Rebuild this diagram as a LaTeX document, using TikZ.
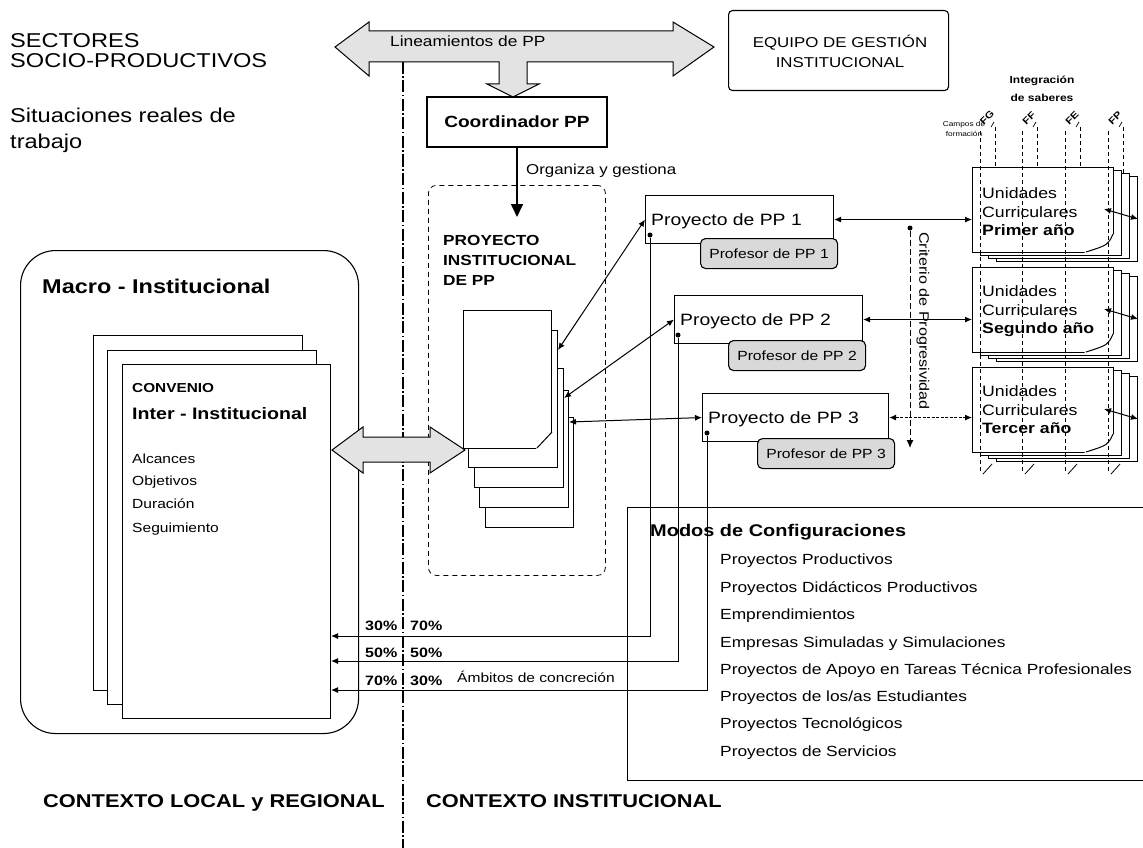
\documentclass[tikz,border=0pt]{standalone}
\usepackage{fontspec}
\setmainfont{Liberation Sans}[FakeStretch=1.18]
\usetikzlibrary{arrows.meta,calc}
\newcommand\fsz[1]{\fontsize{#1}{#1}\selectfont}
\begin{document}
\begin{tikzpicture}[x=1pt,y=-1pt,
  tx/.style={anchor=base west, inner sep=0pt},
  txc/.style={anchor=base, inner sep=0pt},
  bx/.style={draw, line width=1.1pt, inner sep=0pt, anchor=north west},
  page/.style={draw, fill=white, line width=1pt, inner sep=0pt, anchor=north west},
  prof/.style={draw, fill=gray!30, rounded corners=5pt, line width=1.1pt, inner sep=0pt, anchor=north west, minimum width=137pt, minimum height=30pt, font=\fsz{13.3}},
  bigarrow/.style={draw, fill=gray!22, line width=1pt, line join=miter},
  dbl/.style={{Latex[length=7pt,width=6pt]}-{Latex[length=7pt,width=6pt]}, line width=1pt},
  onearrow/.style={-{Latex[length=7pt,width=6pt]}, line width=1pt},
  pdot/.style={circle, fill, inner sep=0pt, minimum size=5pt},
  field/.style={dash pattern=on 4pt off 3pt, line width=0.8pt},
]
\useasboundingbox (0,0) rectangle (1143,848);
\clip (0,0) rectangle (1143,848);

% ---------- top-left texts
\node[tx, font=\fsz{20}] (sec1) at (10,48) {SECTORES};
\node[tx, font=\fsz{20}] (sec2) at (10,68) {SOCIO-PRODUCTIVOS};
\node[tx, font=\fsz{20}] (sit1) at (10,123) {Situaciones reales de};
\node[tx, font=\fsz{20}] (sit2) at (10,149) {trabajo};

% ---------- central dash-dot line
\coordinate (cl1) at (403,62);
\coordinate (cl2) at (403,848);
\draw[line width=1.3pt, dash pattern=on 12pt off 2.5pt on 1.5pt off 2.5pt] (cl1) -- (cl2);

% ---------- top big arrow
\draw[bigarrow] (335,47) -- (369,22) -- (369,31) -- (673,31) -- (673,22) -- (714,47)
  -- (673,76) -- (673,62) -- (527,62) -- (527,84) -- (539,84) -- (513,97) -- (487,84)
  -- (499,84) -- (499,62) -- (369,62) -- (369,76) -- cycle;
\node[tx, font=\fsz{14.7}] (linea) at (390,47) {Lineamientos de PP};

% ---------- equipo
\node[bx, rounded corners=4pt, minimum width=220pt, minimum height=80pt] (equipo) at (728,10) {};
\node[txc, font=\fsz{14.3}] (eq1) at (840,48) {EQUIPO DE GESTIÓN};
\node[txc, font=\fsz{14.3}] (eq2) at (840,68) {INSTITUCIONAL};

% ---------- coordinador
\node[draw, line width=1.1pt, inner sep=0pt, minimum width=180pt, minimum height=50pt, font=\bfseries\fsz{16.2}] (coord) at (517,122) {Coordinador PP};
\coordinate (orgtip) at (517,217);
\draw[line width=1.6pt, -{Triangle[length=13pt,width=12pt]}] (coord.south) -- (orgtip);
\node[tx, font=\fsz{14.3}] (orga) at (526,175) {Organiza y gestiona};

% ---------- dashed project box
\node[draw, dash pattern=on 5pt off 4pt, line width=0.8pt, rounded corners=8pt, inner sep=0pt, anchor=north west, minimum width=177pt, minimum height=390pt] (pibox) at (428,185) {};
\node[tx, font=\bfseries\fsz{14.6}] (pi1) at (443,245) {PROYECTO};
\node[tx, font=\bfseries\fsz{14.6}] (pi2t) at (443,265) {INSTITUCIONAL};
\node[tx, font=\bfseries\fsz{14.6}] (pi3t) at (443,285) {DE PP};

% doc stack
\node[page, minimum width=88pt, minimum height=110pt] (pg5) at (485,417) {};
\node[page, minimum width=89pt, minimum height=117pt] (pg4) at (479,390) {};
\node[page, minimum width=89pt, minimum height=119pt] (pg3) at (474,368) {};
\node[page, minimum width=89pt, minimum height=137pt] (pg2) at (468,330) {};
\node[page, minimum width=88pt, minimum height=138pt] (pg1) at (463,310) {};
\fill[white] (552,432) -- (552,449) -- (536,449) -- cycle;
\draw[line width=1pt] (pg1.north east |- 0,432) -- (537,448);

% ---------- macro box
\node[draw, line width=1.1pt, rounded corners=35pt, inner sep=0pt, anchor=north west, minimum width=338pt, minimum height=483pt] (macro) at (20,250) {};
\node[tx, font=\bfseries\fsz{19.9}] (macrot) at (42,293) {Macro - Institucional};
\node[page, minimum width=209pt, minimum height=355pt] (cv3) at (93,335) {};
\node[page, minimum width=209pt, minimum height=354pt] (cv2) at (107,350) {};
\node[page, minimum width=208pt, minimum height=354pt] (cv1) at (122,364) {};
\node[tx, font=\bfseries\fsz{13}] (conv) at (132,392) {CONVENIO};
\node[tx, font=\bfseries\fsz{16.6}] (inter) at (132,419) {Inter - Institucional};
\node[tx, font=\fsz{13.2}] (al) at (132,463) {Alcances};
\node[tx, font=\fsz{13.2}] (ob) at (132,485) {Objetivos};
\node[tx, font=\fsz{13.2}] (du) at (132,508) {Duración};
\node[tx, font=\fsz{13.2}] (se) at (132,532) {Seguimiento};

% left double arrow
\draw[bigarrow] (332,450) -- (363,427) -- (363,437) -- (430,437) -- (430,427) -- (465,450)
  -- (430,473) -- (430,462) -- (363,462) -- (363,473) -- cycle;

% ---------- modos box
\node[bx, minimum width=560pt, minimum height=273pt] (modos) at (627,507) {};

% ---------- proyectos
\node[bx, fill=white, minimum width=188pt, minimum height=48pt] (p1) at (645,195) {};
\node[bx, fill=white, minimum width=188pt, minimum height=48pt] (p2) at (674,295) {};
\node[bx, fill=white, minimum width=186pt, minimum height=48pt] (p3) at (702,393) {};
\node[tx, font=\fsz{16.4}] (p1t) at (651,225) {Proyecto de PP 1};
\node[tx, font=\fsz{16.4}] (p2t) at (680,325) {Proyecto de PP 2};
\node[tx, font=\fsz{16.4}] (p3t) at (708,423) {Proyecto de PP 3};
\node[prof] (f1) at (700,238) {Profesor de PP 1};
\node[prof] (f2) at (728,340) {Profesor de PP 2};
\node[prof] (f3) at (757,438) {Profesor de PP 3};

% doc stack -> proyectos
\coordinate (s1) at ($(pg2.north east)+(0,20)$);
\coordinate (s2) at ($(pg3.north east)+(0,30)$);
\coordinate (s3) at ($(pg4.north east)+(0,32)$);
\draw[dbl] (s1) -- (p1.west);
\draw[dbl] (s2) -- (p2.west);
\draw[dbl] (s3) -- (p3.west);

% dots and percent lines
\node[pdot] (d1) at (650,235) {};
\node[pdot] (d2) at (678,335) {};
\node[pdot] (d3) at (707,433) {};
\coordinate (r1) at (0,636);
\coordinate (r2) at (0,661);
\coordinate (r3) at (0,690);
\draw[onearrow] (d1) |- (cv1.east |- r1);
\draw[onearrow] (d2) |- (cv1.east |- r2);
\draw[onearrow] (d3) |- (cv1.east |- r3);
\node[tx, font=\bfseries\fsz{13.6}] (pa1) at (365,630) {30\%};
\node[tx, font=\bfseries\fsz{13.6}] (pb1) at (410,630) {70\%};
\node[tx, font=\bfseries\fsz{13.6}] (pa2) at (365,657) {50\%};
\node[tx, font=\bfseries\fsz{13.6}] (pb2) at (410,657) {50\%};
\node[tx, font=\bfseries\fsz{13.6}] (pa3) at (365,685) {70\%};
\node[tx, font=\bfseries\fsz{13.6}] (pb3) at (410,685) {30\%};
\node[tx, font=\fsz{13.2}] (ambit) at (457,682) {Ámbitos de concreción};

% modos texts
\node[tx, font=\bfseries\fsz{16.9}] (modt) at (650,536) {Modos de Configuraciones};
\node[tx, font=\fsz{14.7}] (m1) at (720,564) {Proyectos Productivos};
\node[tx, font=\fsz{14.7}] (m2) at (720,592) {Proyectos Didácticos Productivos};
\node[tx, font=\fsz{14.7}] (m3) at (720,619) {Emprendimientos};
\node[tx, font=\fsz{14.7}] (m4) at (720,647) {Empresas Simuladas y Simulaciones};
\node[tx, font=\fsz{14.7}] (m5) at (720,674) {Proyectos de Apoyo en Tareas Técnica Profesionales};
\node[tx, font=\fsz{14.7}] (m6) at (720,701) {Proyectos de los/as Estudiantes};
\node[tx, font=\fsz{14.7}] (m7) at (720,728) {Proyectos Tecnológicos};
\node[tx, font=\fsz{14.7}] (m8) at (720,756) {Proyectos de Servicios};

% ---------- criterio
\node[pdot] (cd) at (910,228) {};
\coordinate (ce) at (910,448);
\draw[dash pattern=on 6pt off 3pt, line width=1pt, -{Latex[length=8pt,width=7pt]}] (cd) -- (ce);
\node[font=\fsz{13.7}, rotate=-90, inner sep=0pt] (crit) at (923,321) {Criterio de Progresividad};

% ---------- field labels and secondary lines
\node[txc, font=\bfseries\fsz{10.2}] (ig1) at (1042,84) {Integración};
\node[txc, font=\bfseries\fsz{10.2}] (ig2) at (1042,102) {de saberes};
\node[txc, font=\fsz{7}] (cp1) at (964,127) {Campos de};
\node[txc, font=\fsz{7}] (cp2) at (964,136) {formación};
\foreach \xx/\lab in {980/FG,1022/FF,1065/FE,1108/FP}{
  \node[font=\bfseries\fsz{9.5}, rotate=45, inner sep=0pt] (lab\lab) at (\xx+7,118) {\lab};
  \draw[field] (\xx+15,127) -- (\xx+15,180);
  \draw[line width=0.7pt] (\xx+11,127) -- (\xx+14,122);
}

% ---------- unidades stacks
\foreach \k/\yy in {1/167,2/267,3/367}{
  \node[page, minimum width=141pt, minimum height=85pt] (u\k d) at (996,\yy+9) {};
  \node[page, minimum width=141pt, minimum height=85pt] (u\k c) at (988,\yy+6) {};
  \node[page, minimum width=141pt, minimum height=85pt] (u\k b) at (980,\yy+3) {};
  \node[page, minimum width=141pt, minimum height=85pt] (u\k) at (972,\yy) {};
  \fill[white] (1114,\yy+67) -- (1114,\yy+86) -- (1084,\yy+86) -- cycle;
  \draw[line width=1pt] (1113,\yy+67) .. controls (1108,\yy+78) .. (1086,\yy+85);
}
\foreach \xx in {980,1022,1065,1108}{
  \draw[field] (\xx,131) -- (\xx,472);
  \draw[line width=0.8pt] (\xx+3,474) -- (\xx+12,464);
}
\node[tx, font=\fsz{15}] (u1t1) at (982,198) {Unidades};
\node[tx, font=\fsz{15}] (u1t2) at (982,217) {Curriculares};
\node[tx, font=\bfseries\fsz{15}] (u1t3) at (982,235) {Primer año};
\node[tx, font=\fsz{15}] (u2t1) at (982,296) {Unidades};
\node[tx, font=\fsz{15}] (u2t2) at (982,315) {Curriculares};
\node[tx, font=\bfseries\fsz{15}] (u2t3) at (982,333) {Segundo año};
\node[tx, font=\fsz{15}] (u3t1) at (982,396) {Unidades};
\node[tx, font=\fsz{15}] (u3t2) at (982,415) {Curriculares};
\node[tx, font=\bfseries\fsz{15}] (u3t3) at (982,433) {Tercer año};

% inner arrows
\coordinate (ui1) at (1104,209);
\coordinate (ui2) at (1104,309);
\coordinate (ui3) at (1104,409);
\draw[dbl] (ui1) -- (u1d.east);
\draw[dbl] (ui2) -- (u2d.east);
\draw[dbl] (ui3) -- (u3d.east);

% proyectos -> unidades
\draw[dbl] (p1.east) -- (p1.east -| u1.west);
\draw[dbl] (p2.east) -- (p2.east -| u2.west);
\draw[dbl, dash pattern=on 3pt off 1.5pt] (p3.east) -- (p3.east -| u3.west);

% ---------- bottom labels
\node[tx, font=\bfseries\fsz{18.5}] (ctx1) at (43,807) {CONTEXTO LOCAL y REGIONAL};
\node[tx, font=\bfseries\fsz{18.5}] (ctx2) at (426,807) {CONTEXTO INSTITUCIONAL};
\end{tikzpicture}
\end{document}
